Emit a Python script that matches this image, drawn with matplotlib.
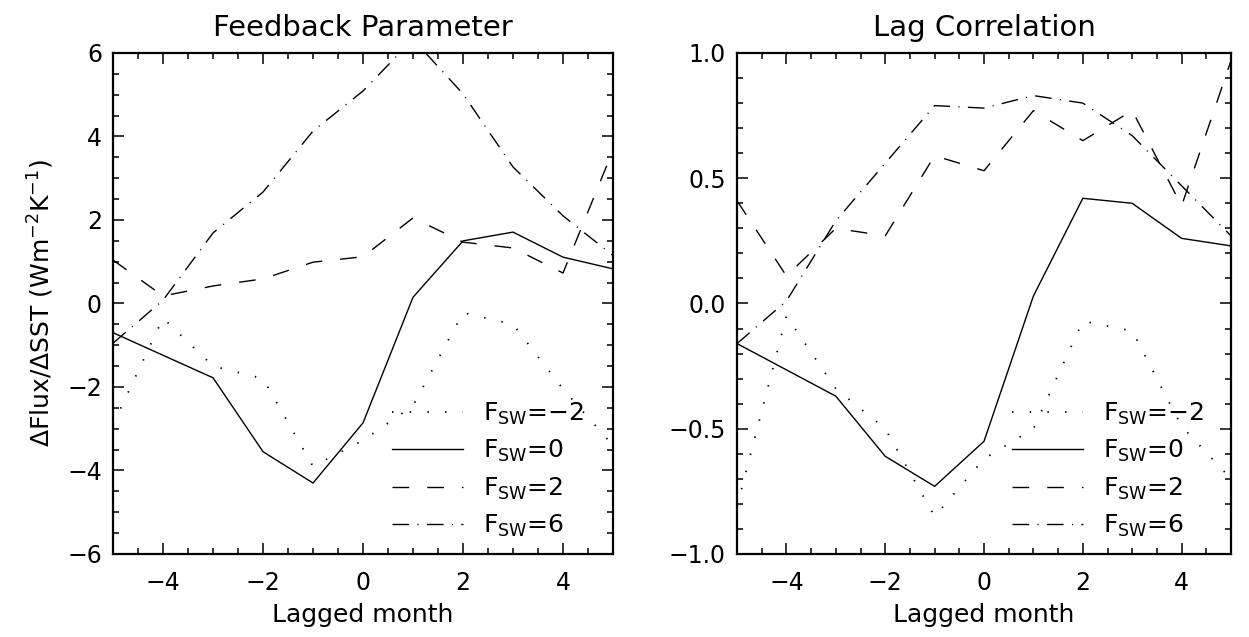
import matplotlib
matplotlib.use("Agg")
import matplotlib.pyplot as plt
from matplotlib.ticker import MultipleLocator, FuncFormatter

# lagged month axis
months = [-5, -4, -3, -2, -1, 0, 1, 2, 3, 4, 5]

# feedback parameter (W m-2 K-1)
fb_m2 = [-2.9, -0.35, -1.5, -1.8, -3.9, -3.28, -2.45, -0.22, -0.5, -2.05, -3.4]
fb_0 = [-0.7, -1.24, -1.78, -3.55, -4.3, -2.86, 0.15, 1.5, 1.71, 1.11, 0.83]
fb_2 = [1.04, 0.18, 0.42, 0.59, 0.99, 1.12, 2.05, 1.47, 1.33, 0.73, 3.67]
fb_6 = [-0.95, 0.08, 1.69, 2.67, 4.13, 5.09, 6.33, 5.02, 3.27, 2.1, 1.15]

# lag correlation
lc_m2 = [-0.81, -0.05, -0.34, -0.5, -0.85, -0.62, -0.5, -0.07, -0.11, -0.49, -0.70]
lc_0 = [-0.16, -0.265, -0.37, -0.61, -0.73, -0.55, 0.03, 0.42, 0.40, 0.26, 0.23]
lc_2 = [0.41, 0.11, 0.30, 0.27, 0.59, 0.53, 0.77, 0.65, 0.77, 0.39, 0.97]
lc_6 = [-0.16, 0.01, 0.33, 0.56, 0.79, 0.78, 0.83, 0.80, 0.67, 0.47, 0.27]

labels = [r"F$_{\mathrm{SW}}$=−2", r"F$_{\mathrm{SW}}$=0",
          r"F$_{\mathrm{SW}}$=2", r"F$_{\mathrm{SW}}$=6"]
styles = [(0, (0.8, 9)), "-", (0, (12, 13)), (0, (12, 6, 0.8, 6))]
widths = [1.3, 1.0, 1.0, 1.0]

plt.rcParams["font.family"] = "DejaVu Sans"
plt.rcParams["font.size"] = 17

fig = plt.figure(figsize=(12.49, 6.37), dpi=100)
ax1 = fig.add_axes([0.0905, 0.1303, 0.4003, 0.7865])
ax2 = fig.add_axes([0.5901, 0.1303, 0.3955, 0.7865])


def style_axes(ax, ymin, ymax, ymaj, ymin_step):
    ax.set_xlim(-5, 5)
    ax.set_ylim(ymin, ymax)
    ax.xaxis.set_major_locator(MultipleLocator(2))
    ax.xaxis.set_minor_locator(MultipleLocator(0.5))
    ax.yaxis.set_major_locator(MultipleLocator(ymaj))
    ax.yaxis.set_minor_locator(MultipleLocator(ymin_step))
    ax.tick_params(which="both", direction="in", top=True, right=True, width=1.1)
    ax.tick_params(which="major", length=8)
    ax.tick_params(which="minor", length=4.5)
    ax.tick_params(axis="x", which="major", pad=12, labelsize=17)
    ax.tick_params(axis="y", which="major", pad=8, labelsize=17)
    for s in ax.spines.values():
        s.set_linewidth(1.6)
    ax.set_xlabel("Lagged month", fontsize=18, labelpad=6)


for ax, series in [(ax1, [fb_m2, fb_0, fb_2, fb_6]), (ax2, [lc_m2, lc_0, lc_2, lc_6])]:
    for ys, ls, lw, lab in zip(series, styles, widths, labels):
        ax.plot(months, ys, color="black", lw=lw, linestyle=ls, label=lab)
    ax.legend(loc="lower left", bbox_to_anchor=(0.557, 0.03), frameon=False,
              fontsize=18, handlelength=2.85, handletextpad=0.8,
              labelspacing=0.45, borderpad=0, borderaxespad=0)

style_axes(ax1, -6, 6, 2, 0.5)
style_axes(ax2, -1, 1, 0.5, 0.1)
ax2.yaxis.set_major_formatter(FuncFormatter(lambda v, p: f"{v:.1f}".replace("-", "−")))

ax1.set_title("Feedback Parameter", fontsize=21, pad=12)
ax2.set_title("Lag Correlation", fontsize=21, pad=12)
ax1.set_ylabel(r"$\Delta$Flux/$\Delta$SST (Wm$^{-2}$K$^{-1}$)", fontsize=18, labelpad=8)

fig.savefig("out.png", dpi=100)
